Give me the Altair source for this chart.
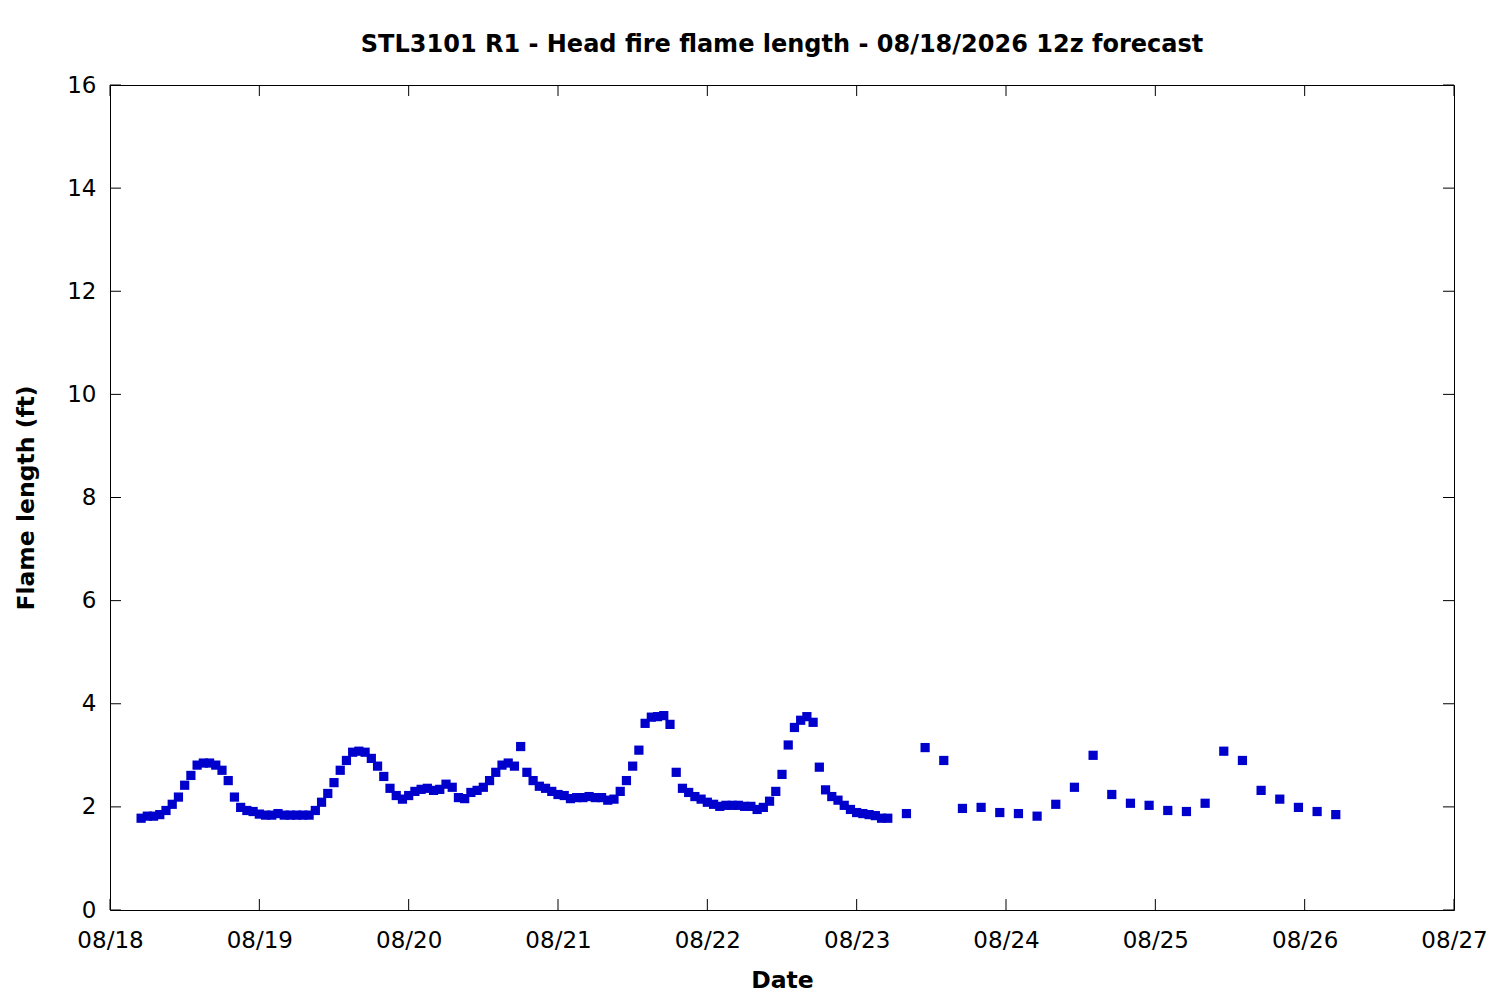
import altair as alt
import pandas as pd

# ---- data ----
TITLE = "STL3101 R1 - Head fire flame length - 08/18/2026 12z forecast"
START_HOUR = 5  # first forecast time = 08/18 05:00 (12z)

# hourly forecast hours 0..120
HOURLY_FH = list(range(0, 121))
HOURLY_FL = [
    1.78, 1.82, 1.82, 1.85, 1.93, 2.05, 2.19, 2.42, 2.61, 2.81,
    2.85, 2.85, 2.81, 2.71, 2.51, 2.19, 1.99, 1.93, 1.91, 1.86,
    1.84, 1.84, 1.87, 1.84, 1.84, 1.84, 1.84, 1.84, 1.93, 2.09,
    2.26, 2.47, 2.71, 2.90, 3.06, 3.08, 3.06, 2.94, 2.79, 2.59,
    2.36, 2.22, 2.15, 2.22, 2.30, 2.34, 2.36, 2.32, 2.34, 2.44,
    2.38, 2.18, 2.16, 2.28, 2.32, 2.38, 2.51, 2.67, 2.81, 2.85,
    2.79, 3.17, 2.67, 2.51, 2.40, 2.36, 2.30, 2.24, 2.22, 2.16,
    2.18, 2.18, 2.20, 2.18, 2.18, 2.13, 2.15, 2.30, 2.51, 2.79,
    3.10, 3.62, 3.74, 3.75, 3.77, 3.60, 2.67, 2.36, 2.28, 2.20,
    2.15, 2.09, 2.05, 2.01, 2.03, 2.03, 2.03, 2.01, 2.01, 1.95,
    1.99, 2.11, 2.30, 2.63, 3.20, 3.54, 3.68, 3.75, 3.64, 2.77,
    2.33, 2.20, 2.13, 2.03, 1.95, 1.89, 1.87, 1.85, 1.83, 1.78,
    1.78,
]
# 3-hourly forecast hours 123..192
THREEH_FH = list(range(123, 193, 3))
THREEH_FL = [
    1.87, 3.15, 2.90, 1.97, 1.99, 1.89, 1.87, 1.82, 2.05, 2.38,
    3.00, 2.24, 2.07, 2.03, 1.93, 1.91, 2.07, 3.08, 2.90, 2.32,
    2.15, 1.99, 1.91, 1.85,
]

DATE_LABELS = ["08/18", "08/19", "08/20", "08/21", "08/22",
               "08/23", "08/24", "08/25", "08/26", "08/27"]
Y_TICKS = [0, 2, 4, 6, 8, 10, 12, 14, 16]

# ---- layout ----
W, H = 1344, 825
X_MAX = 24 * (len(DATE_LABELS) - 1)
Y_MAX = 16
TICK_PX = 11
tick_dy = TICK_PX / H * Y_MAX
tick_dx = TICK_PX / W * X_MAX
FONT = "DejaVu Sans"
BLUE = "#0000CC"

pts = pd.DataFrame({
    "hour": [START_HOUR + h for h in HOURLY_FH + THREEH_FH],
    "fl": HOURLY_FL + THREEH_FL,
})

x_ticks = [24 * i for i in range(len(DATE_LABELS))]
rows = []
for xv in x_ticks:
    rows.append({"hour": xv, "x2": xv, "fl": 0, "y2": tick_dy})
    rows.append({"hour": xv, "x2": xv, "fl": Y_MAX, "y2": Y_MAX - tick_dy})
for yv in Y_TICKS:
    rows.append({"hour": 0, "x2": tick_dx, "fl": yv, "y2": yv})
    rows.append({"hour": X_MAX, "x2": X_MAX - tick_dx, "fl": yv, "y2": yv})
ticks = pd.DataFrame(rows)

label_expr = "[" + ",".join("'%s'" % s for s in DATE_LABELS) + "][round(datum.value/24)]"

xscale = alt.Scale(domain=[0, X_MAX], nice=False, zero=False)
yscale = alt.Scale(domain=[0, Y_MAX], nice=False)
xaxis = alt.Axis(title="Date", values=x_ticks, labelExpr=label_expr,
                 labelFlush=False, labelOverlap=False,
                 labelPadding=19, titlePadding=16)
yaxis = alt.Axis(title="Flame length (ft)", values=Y_TICKS,
                 labelFlush=False, labelOverlap=False,
                 labelPadding=14, titlePadding=28)

points = alt.Chart(pts).mark_square(size=85, color=BLUE, opacity=1).encode(
    x=alt.X("hour:Q", scale=xscale, axis=xaxis),
    y=alt.Y("fl:Q", scale=yscale, axis=yaxis),
)

tick_rules = alt.Chart(ticks).mark_rule(color="black", strokeWidth=1).encode(
    x=alt.X("hour:Q", scale=xscale, axis=xaxis),
    x2="x2:Q",
    y=alt.Y("fl:Q", scale=yscale, axis=yaxis),
    y2="y2:Q",
)

chart = alt.layer(points, tick_rules).properties(
    width=W, height=H,
    title=alt.TitleParams(TITLE, font=FONT, fontSize=24, fontWeight="bold",
                          anchor="middle", offset=17, color="black"),
    autosize=alt.AutoSizeParams(type="none"),
    padding={"left": 102, "top": 77, "right": 36, "bottom": 88},
).configure_view(
    stroke="black", strokeWidth=1
).configure_axis(
    domain=False, ticks=False, grid=False,
    labelFont=FONT, labelFontSize=23, labelColor="black",
    titleFont=FONT, titleFontSize=23.5, titleFontWeight="bold", titleColor="black",
)

chart.save("out.html", embed_options={"renderer": "svg", "actions": False})
